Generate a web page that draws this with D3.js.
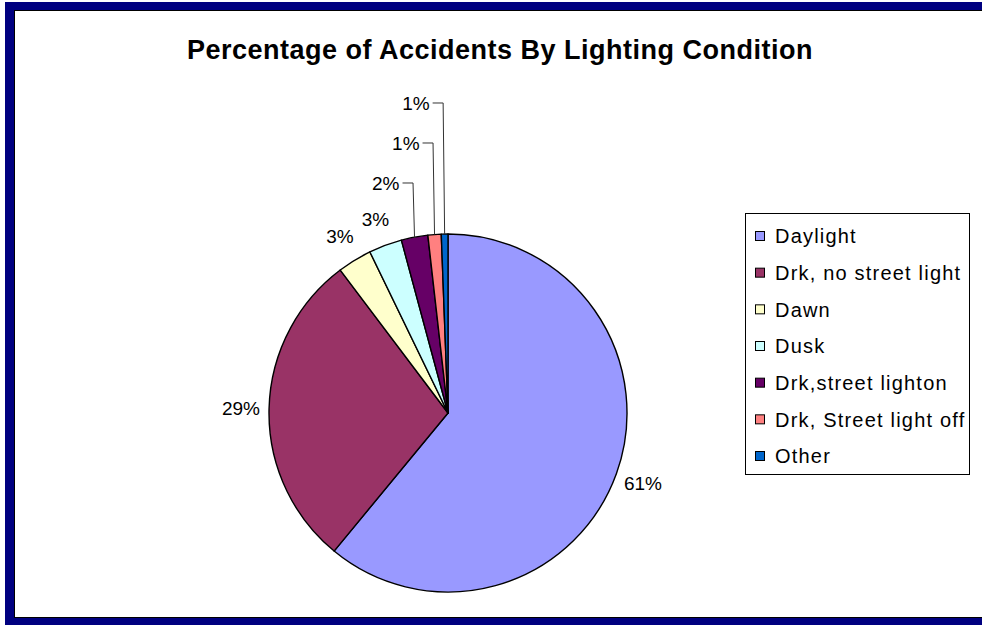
<!DOCTYPE html>
<html><head><meta charset="utf-8">
<script src="https://cdn.jsdelivr.net/npm/d3@7/dist/d3.min.js"></script>
<style>html,body{margin:0;padding:0;background:#fff;}svg{display:block;}</style>
</head><body>
<svg id="chart" width="982" height="625"></svg>
<script>
const title = "Percentage of Accidents By Lighting Condition";
const categories = ["Daylight", "Drk, no street light", "Dawn", "Dusk", "Drk,street lighton", "Drk, Street light off", "Other"];
const values = [61.1, 28.8, 3.1, 3.0, 2.4, 1.2, 0.6];
const labels = ["61%", "29%", "3%", "3%", "2%", "1%", "1%"];
const colors = ["#9999FF", "#993366", "#FFFFCC", "#CCFFFF", "#660066", "#FF8080", "#0066CC"];

const W = 982, H = 625;
const svg = d3.select("#chart");
const font = "'Liberation Sans', Arial, sans-serif";

// frame
svg.append("rect").attr("x", 5).attr("y", 2).attr("width", 1200).attr("height", 700).attr("fill", "#000080");
svg.append("rect").attr("x", 14.5).attr("y", 10.5).attr("width", 1200).attr("height", 607)
  .attr("fill", "#fff").attr("stroke", "#000").attr("stroke-width", 1);

// title
svg.append("text").attr("x", 500).attr("y", 59).attr("text-anchor", "middle")
  .attr("font-family", font).attr("font-weight", "bold").attr("font-size", 27)
  .attr("letter-spacing", 0.5).attr("fill", "#000").text(title);

// pie
const cx = 448, cy = 413, r = 179;
const data = categories.map((c, i) => ({ name: c, value: values[i], label: labels[i], color: colors[i] }));
const pie = d3.pie().value(d => d.value).sort(null).startAngle(0).endAngle(2 * Math.PI);
const arcs = pie(data);
const arc = d3.arc().innerRadius(0).outerRadius(r);
const g = svg.append("g").attr("transform", `translate(${cx},${cy})`);
g.selectAll("path").data(arcs).join("path")
  .attr("d", arc).attr("fill", d => d.data.color)
  .attr("stroke", "#000").attr("stroke-width", 1.4).attr("stroke-linejoin", "round");

// labels
const total = d3.sum(values);
const rl = r * 1.157;
const lab = svg.append("g").attr("font-family", font).attr("font-size", 19).attr("fill", "#000");
let lastY = null, stacked = 0;
arcs.forEach((a, i) => {
  const mid = (a.startAngle + a.endAngle) / 2;
  const share = a.data.value / total;
  if (share < 0.025) {
    // stacked label with leader line
    const ex = cx + r * Math.sin(mid), ey = cy - r * Math.cos(mid);
    const y = lastY - (stacked === 0 ? 36 : 40);
    stacked++;
    const hx = ex - 12;
    lab.append("path").attr("d", `M${ex},${ey}L${ex - 1.5},${y}L${hx},${y}`)
      .attr("fill", "none").attr("stroke", "#333").attr("stroke-width", 1);
    lab.append("text").attr("x", hx - 3).attr("y", y).attr("dy", "0.36em")
      .attr("text-anchor", "end").text(a.data.label);
    lastY = y;
  } else {
    const x = cx + rl * Math.sin(mid), y = cy - rl * Math.cos(mid);
    lab.append("text").attr("x", x).attr("y", y).attr("dy", "0.36em")
      .attr("text-anchor", "middle").text(a.data.label);
    lastY = y;
  }
});

// legend
const lx = 745.5, ly = 213.5, lw = 224, lh = 261;
const leg = svg.append("g");
leg.append("rect").attr("x", lx).attr("y", ly).attr("width", lw).attr("height", lh)
  .attr("fill", "#fff").attr("stroke", "#000").attr("stroke-width", 1);
const rowY = d3.scalePoint().domain(categories).range([236, 456]);
categories.forEach((c, i) => {
  const y = rowY(c);
  leg.append("rect").attr("x", 755.5).attr("y", y - 4.5).attr("width", 9).attr("height", 9)
    .attr("fill", colors[i]).attr("stroke", "#000").attr("stroke-width", 1);
  leg.append("text").attr("x", 775).attr("y", y).attr("dy", "0.36em")
    .attr("font-family", font).attr("font-size", 20).attr("letter-spacing", 1.2)
    .attr("fill", "#000").text(c);
});
</script>
</body></html>
